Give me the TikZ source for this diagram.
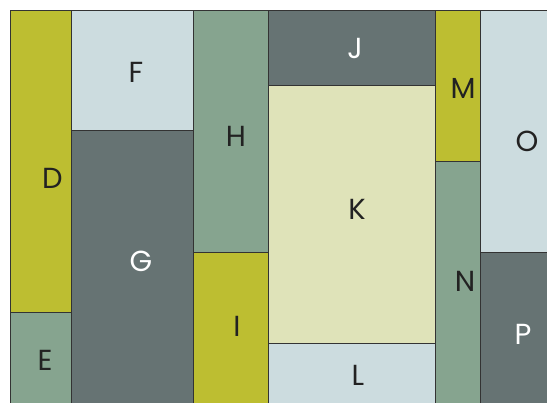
\documentclass[tikz,border=0pt]{standalone}
\usepackage{fontspec}
\setmainfont{Poppins}
\definecolor{moss}{HTML}{BDBE31}
\definecolor{mist}{HTML}{CCDCDF}
\definecolor{slate}{HTML}{667373}
\definecolor{sage}{HTML}{86A48F}
\definecolor{cream}{HTML}{DFE3B9}
\definecolor{edge}{HTML}{333333}
\definecolor{ink}{HTML}{222222}

\begin{document}
\begin{tikzpicture}[x=1pt,y=-1pt,font=\fontsize{29}{29}\selectfont,
  cell/.style={draw=edge,line width=1pt},
  tag/.style={inner sep=0pt,text=ink},
  tagw/.style={inner sep=0pt,text=white}]
\useasboundingbox (0,0) rectangle (547,403);
\clip (0,0) rectangle (547,403);
% first column
\draw[cell,fill=moss] (10.5,10.5) rectangle (71,313);
\draw[cell,fill=sage] (10.5,313) rectangle (71,420);
% second column
\draw[cell,fill=mist] (71,10.5) rectangle (193,131);
\draw[cell,fill=slate] (71,131) rectangle (193,420);
% third column
\draw[cell,fill=sage] (193,10.5) rectangle (268,253);
\draw[cell,fill=moss] (193,253) rectangle (268,420);
% middle column
\draw[cell,fill=slate] (268,10.5) rectangle (435,86);
\draw[cell,fill=cream] (268,86) rectangle (435,344);
\draw[cell,fill=mist] (268,344) rectangle (435,420);
% narrow column
\draw[cell,fill=moss] (435,10.5) rectangle (480.5,162);
\draw[cell,fill=sage] (435,162) rectangle (480.5,420);
% last column
\draw[cell,fill=mist] (480.5,10.5) rectangle (560,253);
\draw[cell,fill=slate] (480.5,253) rectangle (560,420);
% labels
\node[tag] (d) at (52.5,178.5) {D};
\node[tag] (e) at (45,360) {E};
\node[tag] (f) at (136,72) {F};
\node[tagw] (g) at (141,261) {G};
\node[tag] (h) at (236,136) {H};
\node[tag] (i) at (237,326) {I};
\node[tagw] (j) at (355,48) {J};
\node[tag] (k) at (357,209) {K};
\node[tag] (l) at (358,375) {L};
\node[tag] (m) at (463,88) {M};
\node[tag] (n) at (465,281) {N};
\node[tag] (o) at (527,141) {O};
\node[tagw] (p) at (523,334) {P};
\end{tikzpicture}
\end{document}
